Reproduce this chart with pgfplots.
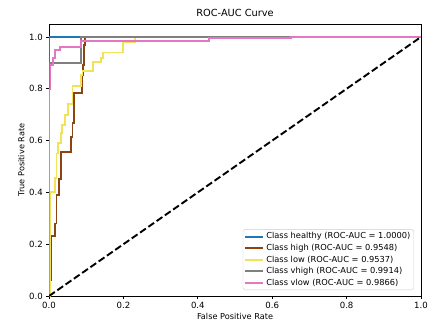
\documentclass[border=0pt]{standalone}
\usepackage{fontspec}
\setmainfont{DejaVu Sans}
\usepackage{pgfplots}
\pgfplotsset{compat=1.18}
\definecolor{cblue}{HTML}{1F77B4}
\definecolor{cbrown}{HTML}{8B4513}
\definecolor{cyellow}{HTML}{F2E25A}
\definecolor{cgray}{HTML}{7F7F7F}
\definecolor{cpink}{HTML}{E377C2}
\begin{document}
\begin{tikzpicture}
\begin{axis}[
  scale only axis,
  width=5.41in, height=3.956in,
  xmin=0, xmax=1, ymin=0, ymax=1.05,
  xtick={0,0.2,...,1.0}, ytick={0,0.2,...,1.0},
  tick align=outside, tick pos=left,
  major tick length=3pt,
  every tick/.style={black, line width=0.7pt},
  axis line style={line width=0.7pt},
  /pgf/number format/assume math mode=true,
  xticklabel style={/pgf/number format/.cd, fixed, fixed zerofill, precision=1},
  yticklabel style={/pgf/number format/.cd, fixed, fixed zerofill, precision=1},
  tick label style={font=\fontsize{9}{11}\selectfont},
  label style={font=\fontsize{8.6}{10}\selectfont},
  xlabel style={yshift=2pt},
  ylabel style={yshift=-2pt},
  xlabel={False Positive Rate}, ylabel={True Positive Rate},
  title={ROC-AUC Curve},
  title style={font=\fontsize{10.3}{12}\selectfont, yshift=-2pt},
  legend style={at={(0.981,0.022)}, anchor=south east, font=\fontsize{8.7}{10.5}\selectfont,
    draw=black!20, rounded corners=2pt, inner sep=1.5pt, row sep=0pt},
  legend cell align=left,
  legend image code/.code={\draw[#1, line width=2pt] (0pt,0pt) -- (19pt,0pt);},
  every axis plot/.append style={line width=2pt, line join=miter},
  clip=true,
]
\addplot[cblue, no marks] coordinates {(0,0) (0,1) (1,1)};
\addlegendentry{Class healthy (ROC-AUC = 1.0000)}
\addplot[cbrown, no marks] coordinates {
(0,0) (0,0.06) (0.005,0.06) (0.005,0.23) (0.015,0.23) (0.015,0.28) (0.02,0.28) (0.02,0.39)
(0.027,0.39) (0.027,0.45) (0.032,0.45) (0.032,0.557) (0.059,0.557) (0.059,0.615)
(0.063,0.615) (0.063,0.668) (0.066,0.668) (0.066,0.784) (0.089,0.784) (0.089,0.853)
(0.092,0.853) (0.092,0.89) (0.095,0.89) (0.095,0.97) (0.097,0.97) (0.097,1) (1,1)};
\addlegendentry{Class high (ROC-AUC = 0.9548)}
\addplot[cyellow, no marks] coordinates {
(0,0) (0.004,0) (0.004,0.40) (0.016,0.40) (0.016,0.455) (0.02,0.455) (0.02,0.55)
(0.025,0.55) (0.025,0.59) (0.031,0.59) (0.031,0.63) (0.036,0.63) (0.036,0.66)
(0.042,0.66) (0.042,0.70) (0.05,0.70) (0.05,0.74) (0.063,0.74) (0.063,0.81)
(0.085,0.81) (0.085,0.853) (0.09,0.853) (0.09,0.867) (0.119,0.867) (0.119,0.905)
(0.14,0.905) (0.14,0.92) (0.144,0.92) (0.144,0.94) (0.2,0.94) (0.2,0.98)
(0.232,0.98) (0.232,1) (1,1)};
\addlegendentry{Class low (ROC-AUC = 0.9537)}
\addplot[cgray, no marks] coordinates {(0,0) (0,0.90) (0.086,0.90) (0.086,1) (1,1)};
\addlegendentry{Class vhigh (ROC-AUC = 0.9914)}
\addplot[cpink, no marks] coordinates {
(0,0) (0,0.80) (0.004,0.80) (0.004,0.89) (0.01,0.89) (0.01,0.92) (0.016,0.92)
(0.016,0.95) (0.03,0.95) (0.03,0.96) (0.085,0.96) (0.085,0.985) (0.43,0.985)
(0.43,0.995) (0.65,0.995) (0.65,1) (1,1)};
\addlegendentry{Class vlow (ROC-AUC = 0.9866)}
\addplot[black, dashed, dash pattern=on 7.4pt off 3.2pt, no marks, forget plot] coordinates {(0,0) (1,1)};
\coordinate (SW) at (rel axis cs:0,0);
\coordinate (NE) at (rel axis cs:1,1);
\end{axis}
\pgfresetboundingbox
\path[use as bounding box] ([xshift=-0.713in,yshift=-0.393in]SW) rectangle ([xshift=0.276in,yshift=0.349in]NE);
\end{tikzpicture}
\end{document}
